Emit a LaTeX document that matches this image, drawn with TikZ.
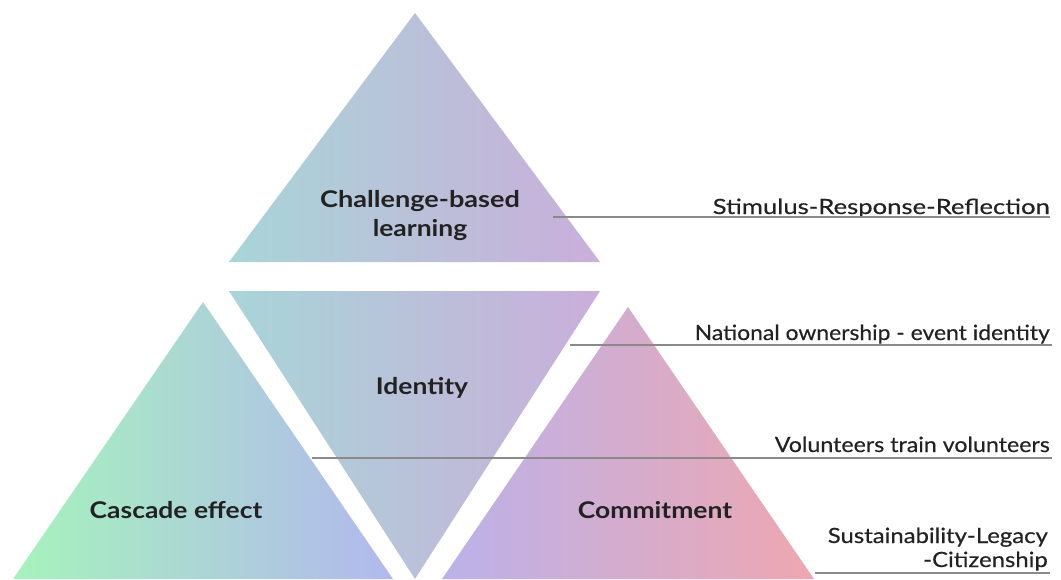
\documentclass[tikz,border=0pt]{standalone}
\usepackage{fontspec}
\setmainfont{Lato}
\newfontfamily\labelfont{Lato}[FakeStretch=1.2, FakeBold=0.4]
\newfontfamily\titlefont{Lato Bold}[FakeStretch=1.15]
\definecolor{txt}{HTML}{222222}
\definecolor{lead}{HTML}{8A8A8A}
\definecolor{tealA}{HTML}{A8D5D8}
\definecolor{lavB}{HTML}{B2B5EF}
\definecolor{purC}{HTML}{CAAEDA}
\definecolor{grnA}{HTML}{A6F3BC}
\definecolor{grnM}{HTML}{ACD7D6}
\definecolor{bluR}{HTML}{B2B8EE}
\definecolor{rL}{HTML}{BBB2EA}
\definecolor{rM}{HTML}{D5ADD8}
\definecolor{pnkR}{HTML}{EEA7B0}
\tikzset{
  title/.style={font=\titlefont\fontsize{23}{28}\selectfont, text=txt, align=center, inner sep=0pt},
  label/.style={font=\labelfont\fontsize{21}{25}\selectfont, text=txt, align=right, inner sep=0pt, anchor=base east},
  leader/.style={draw=lead, line width=1.8pt}
}
\begin{document}
\begin{tikzpicture}[x=1pt,y=-1pt]
\useasboundingbox (0,0) rectangle (1061,579);
% triangles
\shade[left color=tealA, middle color=lavB, right color=purC] (415,13) -- (600,262) -- (229,262) -- cycle;
\shade[left color=tealA, middle color=lavB, right color=purC] (229,291) -- (600,291) -- (415,579) -- cycle;
\shade[left color=grnA, middle color=grnM, right color=bluR] (203,302) -- (393,579) -- (13,579) -- cycle;
\shade[left color=rL, middle color=rM, right color=pnkR] (628,307) -- (814,579) -- (442,579) -- cycle;
% titles
\node[title, anchor=base] (t1) at (420,207) {\scalebox{1.025}[1]{Challenge-based}};
\node[title, anchor=base] (t1b) at (420,236) {learning};
\node[title, anchor=base] (t2) at (422,394) {Identity};
\node[title, anchor=base] (t3) at (176,518) {Cascade effect};
\node[title, anchor=base] (t4) at (655,518) {Commitment};
% side labels
\node[label] (l1) at (1050,214) {\scalebox{1.018}[1]{Stimulus-Response-Reflection}};
\node[label] (l2) at (1050,340) {\scalebox{0.908}[1]{National ownership - event identity}};
\node[label] (l3) at (1050,452) {\scalebox{0.92}[1]{Volunteers train volunteers}};
\node[label] (l4a) at (1048,543) {\scalebox{0.948}[1]{Sustainability-Legacy}};
\node[label] (l4) at (1048,567) {\scalebox{0.948}[1]{-Citizenship}};
% leaders
\coordinate (s1) at (553,217); \coordinate (e1) at (1050,217);
\coordinate (s2) at (570,345); \coordinate (e2) at (1052,345);
\coordinate (s3) at (312,458); \coordinate (e3) at (1052,458);
\coordinate (s4) at (815,573); \coordinate (e4) at (1050,573);
\draw[leader] (s1) -- (e1);
\draw[leader] (s2) -- (e2);
\draw[leader] (s3) -- (e3);
\draw[leader] (s4) -- (e4);
\end{tikzpicture}
\end{document}
